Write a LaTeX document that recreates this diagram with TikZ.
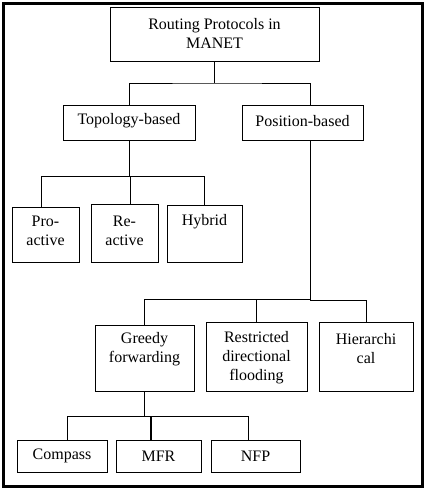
\documentclass[tikz,border=0pt]{standalone}
\usepackage{fontspec}
\setmainfont{Liberation Serif}
\begin{document}
\begin{tikzpicture}[x=1pt,y=-1pt,
  box/.style={draw, line width=0.9pt, inner sep=0pt, minimum width=#1},
  lbl/.style={inner sep=0pt, align=center, font=\fontsize{16}{19}\selectfont},
  conn/.style={line width=0.8pt},
  tconn/.style={line width=1.5pt}]
\useasboundingbox (0,0) rectangle (427,490);
\draw[line width=2.6pt] (3.5,3.5) rectangle (422.5,486.5);
% boxes
\node[box=209pt, minimum height=54pt] (top) at (214.5,34) {};
\node[box=132pt, minimum height=35pt] (topo) at (129,122.5) {};
\node[box=121pt, minimum height=35pt] (pos) at (302.5,122.5) {};
\node[box=67pt, minimum height=55pt] (pro) at (45.5,234.5) {};
\node[box=67pt, minimum height=58pt] (re) at (124.5,233) {};
\node[box=75pt, minimum height=57pt] (hyb) at (204.5,233.5) {};
\node[box=99pt, minimum height=66pt] (gre) at (144.5,358) {};
\node[box=101pt, minimum height=69pt] (res) at (256.5,356.5) {};
\node[box=94pt, minimum height=69pt] (hie) at (366,356.5) {};
\node[box=90pt, minimum height=32pt] (com) at (62,456) {};
\node[box=85pt, minimum height=32pt] (mfr) at (158.5,456) {};
\node[box=89pt, minimum height=32pt] (nfp) at (255.5,456) {};
% labels
\node[lbl] (ttop) at (214.5,33) {Routing Protocols in\\MANET};
\node[lbl] (ttopo) at (129,121) {Topology-based};
\node[lbl] (tpos) at (302.5,121) {Position-based};
\node[lbl] (tpro) at (45.5,231) {Pro-\\active};
\node[lbl] (tre) at (124.5,231) {Re-\\active};
\node[lbl] (thyb) at (204.5,222) {Hybrid};
\node[lbl] (tgre) at (144.5,349.5) {Greedy\\forwarding};
\node[lbl] (tres) at (256.5,358) {Restricted\\directional\\flooding};
\node[lbl] (thie) at (366,348.5) {Hierarchi\\cal};
\node[lbl] (tcom) at (62,456) {Compass};
\node[lbl] (tmfr) at (158.5,456) {MFR};
\node[lbl] (tnfp) at (255.5,456) {NFP};
% junctions
\coordinate (j1) at (214.5,83);
\coordinate (pa) at (310,105);
\coordinate (pb) at (310,140);
\coordinate (j2) at (129,176.5);
\coordinate (pt) at (41,207);
\coordinate (rt) at (130,204);
\coordinate (j3) at (310,299);
\coordinate (j4) at (144.5,416.5);
\coordinate (ct) at (67,440);
\coordinate (nt) at (248,440);
\coordinate (mt) at (151,440);
% connectors
\draw[conn] (top.south) -- (j1);
\draw[conn] (topo.north) |- (j1) -| (pa);
\draw[conn] (topo.south) -- (j2);
\draw[conn] (pt) |- (j2);
\draw[conn] (rt) -- (rt |- j2);
\draw[tconn] (rt |- j2) -| (hyb.north);
\draw[conn] (pb) -- (j3);
\draw[conn] (gre.north) |- (j3);
\draw[conn] (res.north) -- (res.north |- j3);
\draw[conn] (j3) -- (310,300.5) -| (hie.north);
\draw[tconn] (gre.south) -- (j4);
\draw[conn] (ct) |- (j4) -| (nt);
\draw[tconn] (mt) -- (mt |- j4);
\end{tikzpicture}
\end{document}
